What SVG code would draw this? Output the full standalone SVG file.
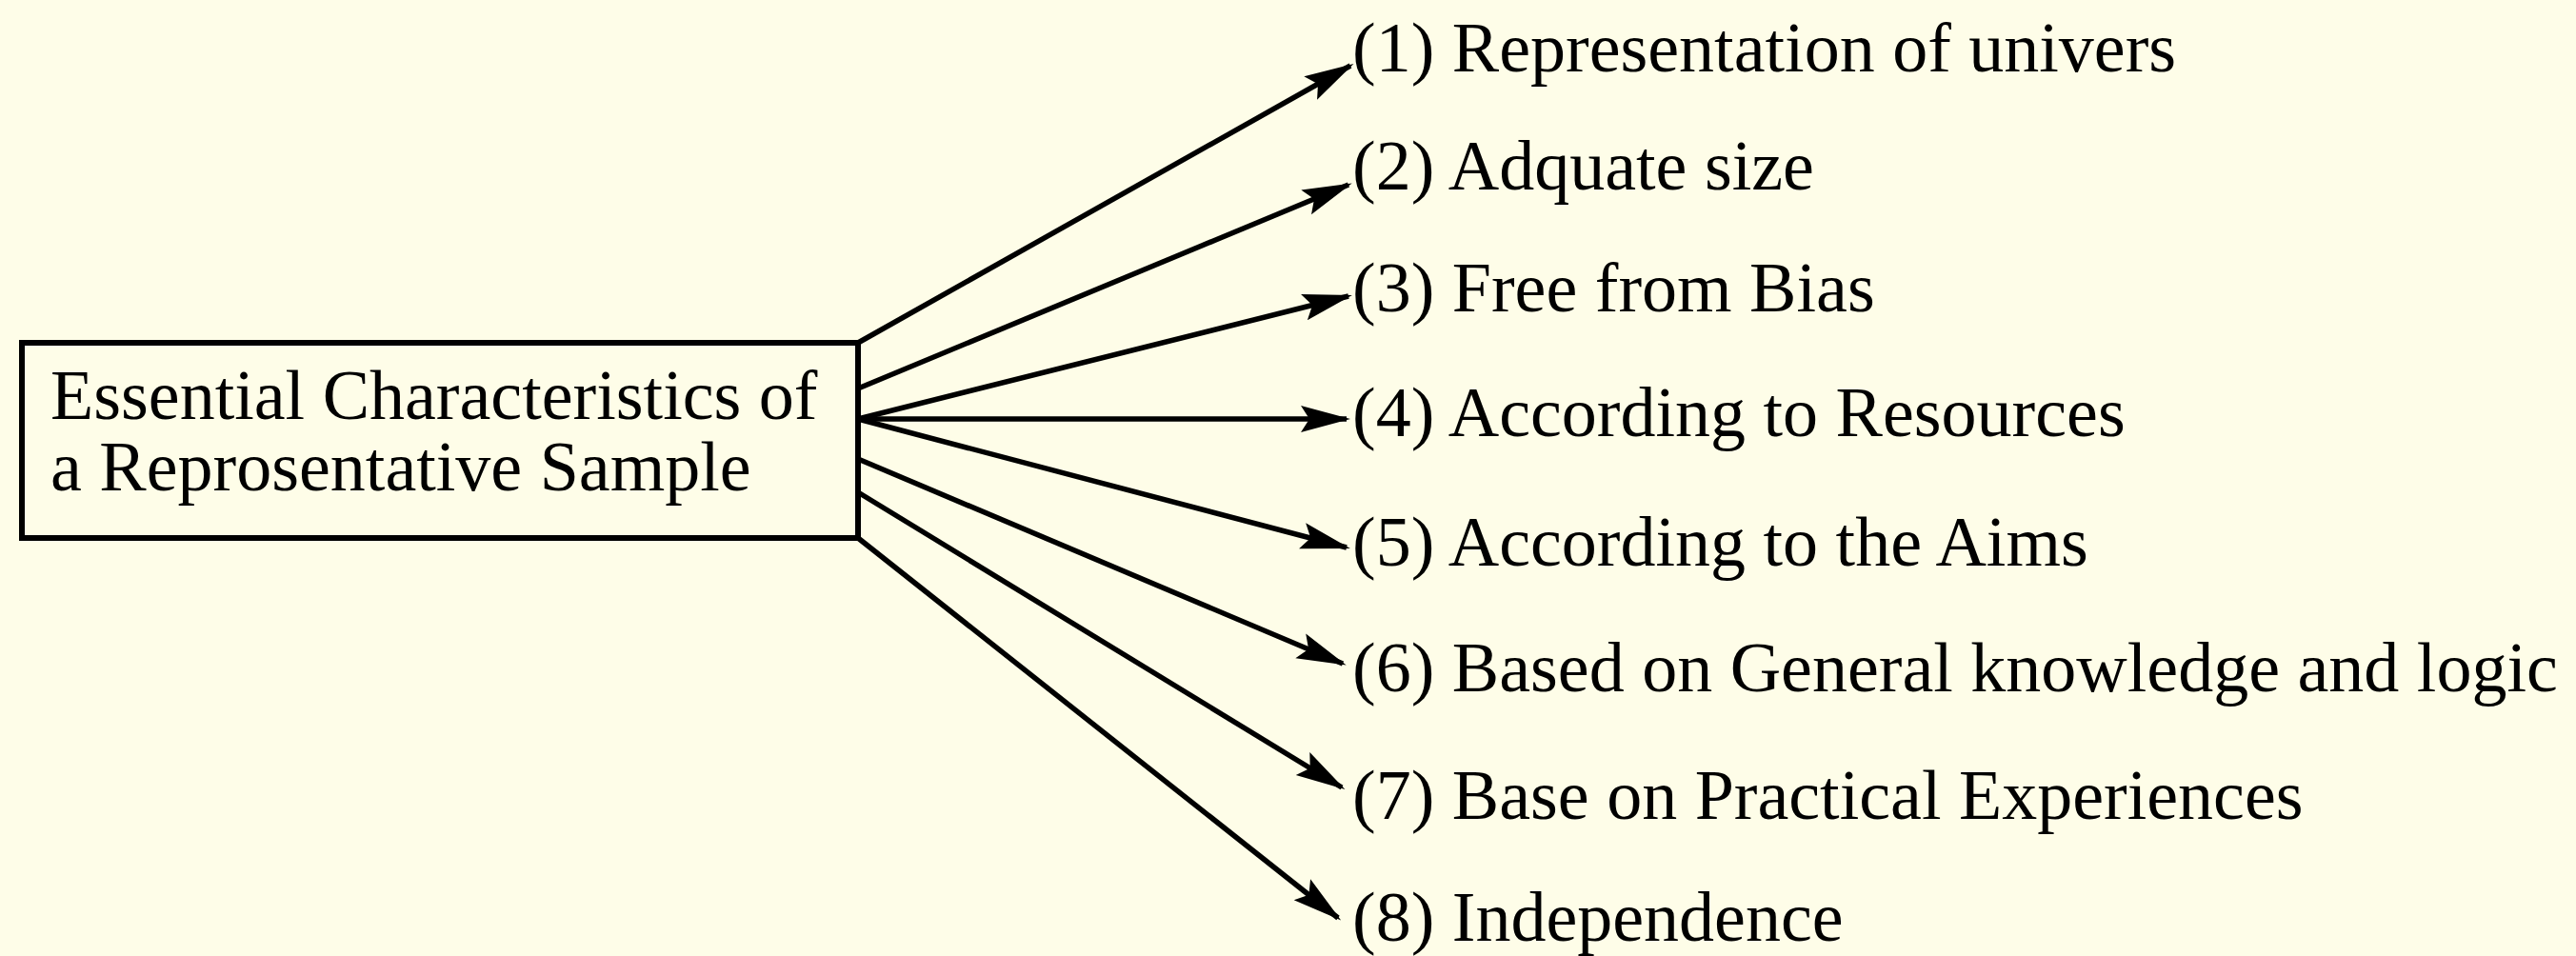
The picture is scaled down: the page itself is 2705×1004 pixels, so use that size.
<svg xmlns="http://www.w3.org/2000/svg" width="2705" height="1004" viewBox="0 0 2705 1004">
<style>
.bg{fill:#FEFDE8}
.box{fill:#FEFDE8;stroke:#000;stroke-width:6}
.t{font-family:"Liberation Serif","Times New Roman",serif;font-size:74px;fill:#000}
.c{stroke:#000;stroke-width:5.5;fill:none;marker-end:url(#ah)}
</style>
<defs>
<marker id="ah" markerUnits="userSpaceOnUse" markerWidth="60" markerHeight="34" viewBox="0 -17 54 34" refX="48" refY="0" orient="auto">
<path d="M0,-14 L52,0 L0,14 L9,0 Z" fill="#000"/>
</marker>
</defs>
<rect class="bg" x="0" y="0" width="2705" height="1004"/>
<g id="source">
<rect class="box" x="23" y="360" width="878" height="205"/>
<text class="t" x="53" y="440">Essential Characteristics of</text>
<text class="t" x="53" y="515">a Reprosentative Sample</text>
</g>
<g id="connectors">
<line class="c" x1="901" y1="360" x2="1418" y2="69"/>
<line class="c" x1="901" y1="408" x2="1416" y2="194"/>
<line class="c" x1="901" y1="440" x2="1416" y2="311"/>
<line class="c" x1="901" y1="440" x2="1414" y2="440"/>
<line class="c" x1="901" y1="440" x2="1414" y2="575"/>
<line class="c" x1="901" y1="482" x2="1410" y2="697"/>
<line class="c" x1="901" y1="517" x2="1409" y2="827"/>
<line class="c" x1="901" y1="565" x2="1405" y2="964"/>
</g>
<g id="n1"><text class="t" x="1420" y="75">(1) Representation of univers</text></g>
<g id="n2"><text class="t" x="1420" y="199">(2) Adquate size</text></g>
<g id="n3"><text class="t" x="1420" y="327">(3) Free from Bias</text></g>
<g id="n4"><text class="t" x="1420" y="458">(4) According to Resources</text></g>
<g id="n5"><text class="t" x="1420" y="594">(5) According to the Aims</text></g>
<g id="n6"><text class="t" x="1420" y="726">(6) Based on General knowledge and logic</text></g>
<g id="n7"><text class="t" x="1420" y="860">(7) Base on Practical Experiences</text></g>
<g id="n8"><text class="t" x="1420" y="988">(8) Independence</text></g>
</svg>
